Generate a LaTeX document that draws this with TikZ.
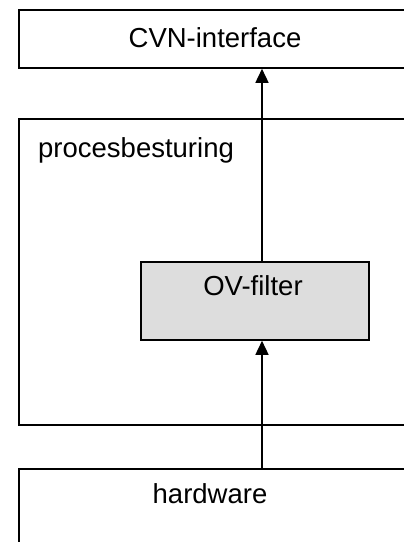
\documentclass[tikz,border=0pt]{standalone}
\usepackage{fontspec}
\setmainfont{Liberation Sans}
\usetikzlibrary{arrows.meta}
\definecolor{filtergray}{HTML}{DDDDDD}
\begin{document}
\begin{tikzpicture}[x=1pt,y=-1pt,
  box/.style={draw=black,line width=1.8pt,inner sep=0pt,anchor=north west},
  lbl/.style={inner sep=0pt,font=\fontsize{27.5}{33}\selectfont},
  arr/.style={line width=1.6pt,-{Triangle[length=14pt,width=13pt]}}]
\useasboundingbox (0,0) rectangle (404,542);
\clip (0,0) rectangle (404,542);
\node[box,minimum width=386pt,minimum height=58pt] (cvn) at (18,9) {};
\node[box,minimum width=386pt,minimum height=306pt] (proc) at (18,118) {};
\node[box,fill=filtergray,minimum width=228pt,minimum height=78pt] (ov) at (140,261) {};
\node[box,minimum width=386pt,minimum height=100pt] (hw) at (18,468) {};
\node[lbl,anchor=base] (tcvn) at (215,47) {CVN-interface};
\node[lbl,anchor=base west] (tproc) at (38,157) {procesbesturing};
\node[lbl,anchor=base] (tov) at (253,295) {OV-filter};
\node[lbl,anchor=base] (thw) at (210,503) {hardware};
\coordinate (ax) at (262,0);
\draw[arr] (ov.north -| ax) -- (cvn.south -| ax);
\draw[arr] (hw.north -| ax) -- (ov.south -| ax);
\end{tikzpicture}
\end{document}
